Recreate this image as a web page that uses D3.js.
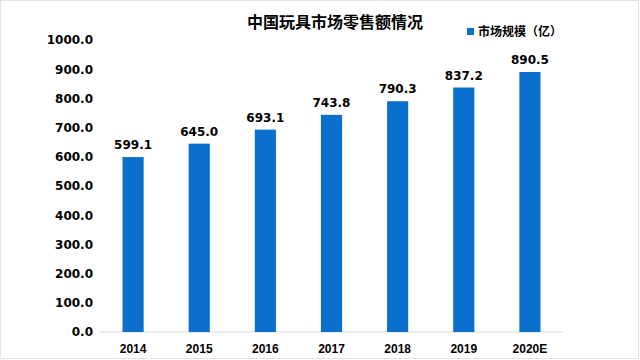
<!DOCTYPE html>
<html><head><meta charset="utf-8">
<script src="https://cdn.jsdelivr.net/npm/d3@7"></script>
<style>body{margin:0;background:#fff}svg{display:block;font-family:"DejaVu Sans","Noto Sans CJK SC",sans-serif}</style>
</head><body><svg id="c" width="640" height="360"></svg>
<script>
const categories = ["2014","2015","2016","2017","2018","2019","2020E"];
const values = [599.1,645.0,693.1,743.8,790.3,837.2,890.5];
const yTicks = [0,100,200,300,400,500,600,700,800,900,1000];
const title = "中国玩具市场零售额情况";
const seriesName = "市场规模（亿）";

const svg = d3.select("#c");
svg.append("rect").attr("x",0.5).attr("y",0.5).attr("width",638).attr("height",358).attr("fill","#fff").attr("stroke","#e3e3e3");
const x = d3.scaleBand().domain(categories).range([100,563]).paddingInner(0.68).paddingOuter(0.34);
const y = d3.scaleLinear().domain([0,1000]).range([332,40]);
const color = "#0a6fcd";

svg.append("line").attr("x1",100).attr("x2",563).attr("y1",y(0)).attr("y2",y(0)).attr("stroke","#d9d9d9");

const ya = svg.append("g").attr("transform","translate(93,0)")
  .call(d3.axisLeft(y).tickValues(yTicks).tickFormat(d3.format(".1f")).tickSize(0).tickPadding(0));
ya.select(".domain").remove();
ya.selectAll("text").attr("font-size",12).attr("font-weight","bold").attr("fill","#000").attr("font-family","DejaVu Sans");

const xa = svg.append("g").attr("transform",`translate(0,${y(0)})`)
  .call(d3.axisBottom(x).tickSize(0).tickPadding(10));
xa.select(".domain").remove();
xa.selectAll("text").attr("font-size",12).attr("font-weight","bold").attr("fill","#000").attr("font-family","Liberation Sans").attr("dy","0.9em");

svg.selectAll(".bar").data(values).join("rect")
  .attr("x",(d,i)=>x(categories[i])).attr("width",x.bandwidth())
  .attr("y",d=>y(d)).attr("height",d=>y(0)-y(d)).attr("fill",color);

svg.selectAll(".lbl").data(values).join("text")
  .attr("x",(d,i)=>x(categories[i])+x.bandwidth()/2).attr("y",d=>y(d)-8)
  .attr("text-anchor","middle").attr("font-size",12).attr("font-weight","bold").attr("font-family","DejaVu Sans")
  .text(d=>d.toFixed(1));

svg.append("text").attr("x",335).attr("y",28).attr("text-anchor","middle")
  .attr("font-size",16).attr("font-weight","bold").attr("font-family","Noto Sans CJK SC").text(title);
svg.append("rect").attr("x",467).attr("y",28).attr("width",7).attr("height",7).attr("fill",color);
svg.append("text").attr("x",478).attr("y",36).attr("font-size",12).attr("font-weight","bold")
  .attr("font-family","Noto Sans CJK SC").text(seriesName);
</script></body></html>
